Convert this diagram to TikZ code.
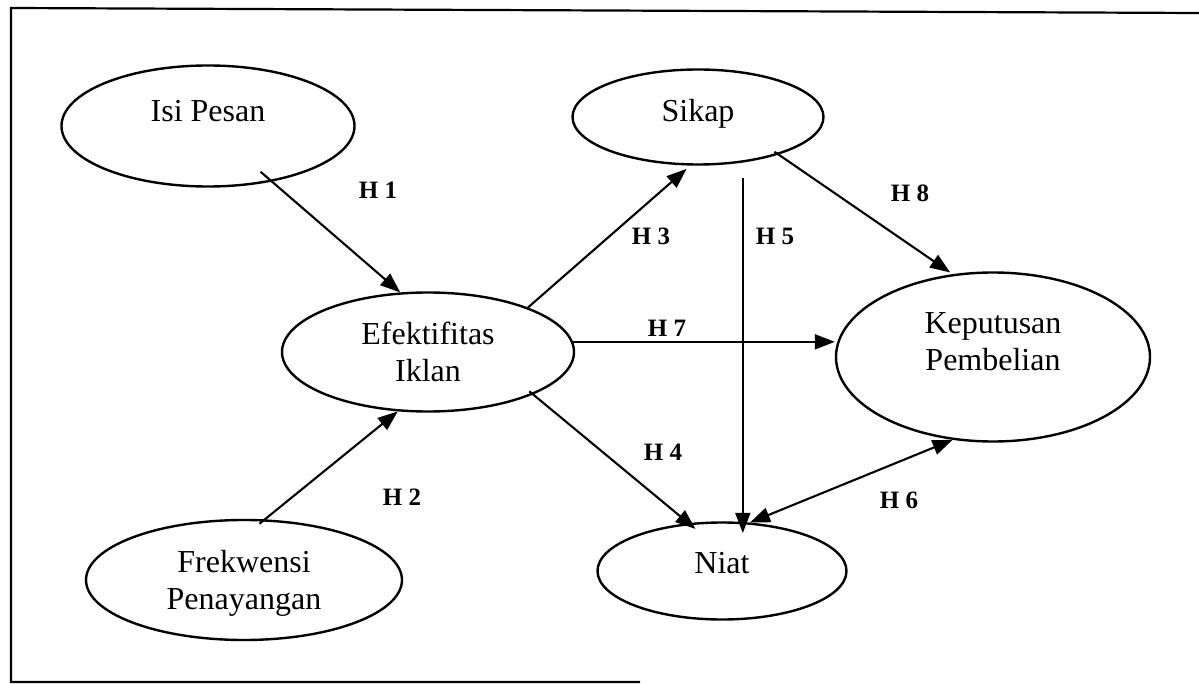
\documentclass[tikz,border=0pt]{standalone}
\usepackage{fontspec}
\setmainfont{Liberation Serif}
\usetikzlibrary{shapes.geometric, arrows.meta, calc}

\begin{document}
\begin{tikzpicture}[
        x=1pt, y=-1pt,
        construct/.style={ellipse, draw=black, line width=2.4pt, inner sep=0pt,
                          align=center, font=\fontsize{32}{37}\selectfont},
        path_arrow/.style={-{Triangle[length=20pt, width=15pt]}, line width=2.1pt},
        both_arrow/.style={{Triangle[length=20pt, width=15pt]}-{Triangle[length=20pt, width=15pt]}, line width=2.1pt},
        hyp/.style={font=\fontsize{25}{27}\selectfont\bfseries},
        frame_line/.style={line width=2.2pt}
    ]
    \useasboundingbox (0,0) rectangle (1199,684);

    % frame of the model
    \draw[frame_line] (1199,13) -- (11,8) -- (11,682) -- (640,682);

    \node[construct, minimum width=293pt, minimum height=121pt, text depth=31pt] (isi) at (208,126) {Isi Pesan};
    \node[construct, minimum width=292pt, minimum height=119pt, text depth=0pt] (efek) at (428,352) {Efektifitas\\Iklan};
    \node[construct, minimum width=316pt, minimum height=120pt, text depth=0pt] (frek) at (244,580) {Frekwensi\\Penayangan};
    \node[construct, minimum width=251pt, minimum height=95pt, text depth=14pt] (sikap) at (698,117) {Sikap};
    \node[construct, minimum width=314pt, minimum height=169pt, text depth=31pt] (kep) at (993,357) {Keputusan\\Pembelian};
    \node[construct, minimum width=249pt, minimum height=97pt, text depth=16pt] (niat) at (722,571) {Niat};

    \draw[path_arrow, shorten <=-15pt] (isi.-41) -- (efek.115);
    \draw[path_arrow, shorten <=-7pt] (frek.71) -- (efek.-117);
    \draw[path_arrow, shorten >=5pt] (efek.24) -- (sikap.-99);
    \draw[path_arrow] (efek.4) -- (efek.4 -| kep.west);
    \draw[path_arrow, shorten <=-5pt, shorten >=-9pt] (efek.-22) -- (niat.125);
    \draw[path_arrow, line width=1.5pt, shorten <=12pt, shorten >=-11pt] (niat.67 |- sikap.south) -- (niat.67);
    \draw[path_arrow, shorten <=-5pt, shorten >=3pt] (sikap.-25) -- (kep.116);
    \draw[both_arrow] (niat.60) -- (kep.-116);

    \node[hyp] (h1) at (378,190) {H 1};
    \node[hyp] (h2) at (402,497) {H 2};
    \node[hyp] (h3) at (651,236) {H 3};
    \node[hyp] (h4) at (663,452) {H 4};
    \node[hyp] (h5) at (775,236) {H 5};
    \node[hyp] (h6) at (899,500) {H 6};
    \node[hyp] (h7) at (667,328) {H 7};
    \node[hyp] (h8) at (910,193) {H 8};
\end{tikzpicture}
\end{document}
